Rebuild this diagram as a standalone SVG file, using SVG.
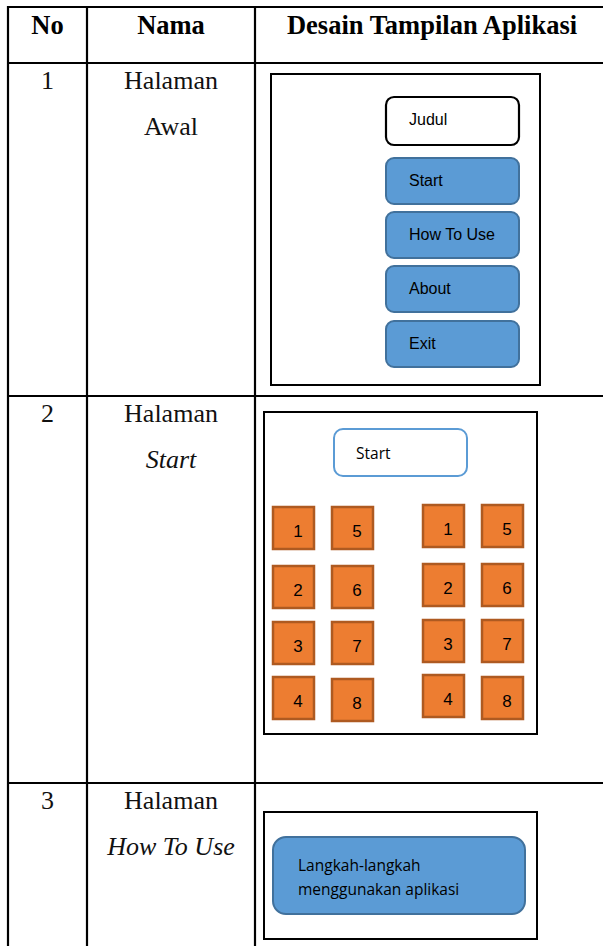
<svg xmlns="http://www.w3.org/2000/svg" width="603" height="946" viewBox="0 0 603 946">
<style>
.grid{stroke:#000;stroke-width:2.2;fill:none}
.th{font-family:"Liberation Serif",serif;font-weight:bold;font-size:26.5px;fill:#000;text-anchor:middle}
.td{font-family:"Liberation Serif",serif;font-size:26px;fill:#111;text-anchor:middle}
.it{font-style:italic}
.frame{fill:#fff;stroke:#000;stroke-width:2}
.btn{fill:#5B9BD5;stroke:#41719C;stroke-width:2}
.title{fill:#fff;stroke:#000;stroke-width:2.2}
.bt{font-family:"Liberation Sans",Arial,sans-serif;font-size:16px;fill:#000}
.cal{font-family:"Open Sans","Noto Sans",sans-serif;font-size:15.5px;fill:#000}
.sq{fill:#ED7D31;stroke:#AE5A21;stroke-width:2.5}
.dg{font-family:"Liberation Sans",Arial,sans-serif;font-size:17px;fill:#000;text-anchor:middle}
</style>
<rect width="603" height="946" fill="#fff"/>
<g id="table" class="grid">
<line x1="8" y1="7" x2="603" y2="7"/>
<line x1="8" y1="63" x2="603" y2="63"/>
<line x1="8" y1="396" x2="603" y2="396"/>
<line x1="8" y1="783" x2="603" y2="783"/>
<line x1="8" y1="6" x2="8" y2="946"/>
<line x1="87" y1="6" x2="87" y2="946"/>
<line x1="255" y1="6" x2="255" y2="946"/>
</g>
<g id="header">
<text class="th" x="47.5" y="34">No</text>
<text class="th" x="171" y="34">Nama</text>
<text class="th" x="432" y="34">Desain Tampilan Aplikasi</text>
</g>
<g id="row1">
<text class="td" x="47.5" y="89">1</text>
<text class="td" x="171" y="89">Halaman</text>
<text class="td" x="171" y="135">Awal</text>
</g>
<g id="row2">
<text class="td" x="47.5" y="422">2</text>
<text class="td" x="171" y="422">Halaman</text>
<text class="td it" x="171" y="468">Start</text>
</g>
<g id="row3">
<text class="td" x="47.5" y="809">3</text>
<text class="td" x="171" y="809">Halaman</text>
<text class="td it" x="171" y="855">How To Use</text>
</g>
<g id="screen-awal">
<rect class="frame" x="271" y="74" width="269" height="311"/>
<g id="judul"><rect class="title" x="386" y="97" width="133" height="48" rx="8"/><text class="bt" x="409" y="125">Judul</text></g>
<g id="btn-start"><rect class="btn" x="386" y="158" width="133" height="46" rx="8"/><text class="bt" x="409" y="186">Start</text></g>
<g id="btn-howto"><rect class="btn" x="386" y="212" width="133" height="46" rx="8"/><text class="bt" x="409" y="240">How To Use</text></g>
<g id="btn-about"><rect class="btn" x="386" y="266" width="133" height="46" rx="8"/><text class="bt" x="409" y="294">About</text></g>
<g id="btn-exit"><rect class="btn" x="386" y="321" width="133" height="46" rx="8"/><text class="bt" x="409" y="349">Exit</text></g>
</g>
<g id="screen-start">
<rect class="frame" x="264" y="412" width="273" height="322"/>
<g id="start-title"><rect x="334" y="429" width="133" height="47" rx="9" fill="#fff" stroke="#5B9BD5" stroke-width="2"/><text class="cal" x="356" y="459">Start</text></g>
<g id="left-grid">
<rect class="sq" x="273" y="507" width="41" height="42"/><text class="dg" x="298" y="537">1</text>
<rect class="sq" x="332" y="507" width="41" height="42"/><text class="dg" x="357" y="537">5</text>
<rect class="sq" x="273" y="566" width="41" height="42"/><text class="dg" x="298" y="596">2</text>
<rect class="sq" x="332" y="566" width="41" height="42"/><text class="dg" x="357" y="596">6</text>
<rect class="sq" x="273" y="622" width="41" height="42"/><text class="dg" x="298" y="652">3</text>
<rect class="sq" x="332" y="622" width="41" height="42"/><text class="dg" x="357" y="652">7</text>
<rect class="sq" x="273" y="677" width="41" height="42"/><text class="dg" x="298" y="707">4</text>
<rect class="sq" x="332" y="679" width="41" height="42"/><text class="dg" x="357" y="709">8</text>
</g>
<g id="right-grid">
<rect class="sq" x="423" y="505" width="41" height="42"/><text class="dg" x="448" y="535">1</text>
<rect class="sq" x="482" y="505" width="41" height="42"/><text class="dg" x="507" y="535">5</text>
<rect class="sq" x="423" y="564" width="41" height="42"/><text class="dg" x="448" y="594">2</text>
<rect class="sq" x="482" y="564" width="41" height="42"/><text class="dg" x="507" y="594">6</text>
<rect class="sq" x="423" y="620" width="41" height="42"/><text class="dg" x="448" y="650">3</text>
<rect class="sq" x="482" y="620" width="41" height="42"/><text class="dg" x="507" y="650">7</text>
<rect class="sq" x="423" y="675" width="41" height="42"/><text class="dg" x="448" y="705">4</text>
<rect class="sq" x="482" y="677" width="41" height="42"/><text class="dg" x="507" y="707">8</text>
</g>
</g>
<g id="screen-howto">
<rect class="frame" x="264" y="812" width="273" height="127"/>
<g id="langkah"><rect class="btn" x="273" y="837" width="252" height="77" rx="13"/>
<text class="cal" x="298" y="871">Langkah-langkah</text>
<text class="cal" x="298" y="895">menggunakan aplikasi</text></g>
</g>
</svg>
